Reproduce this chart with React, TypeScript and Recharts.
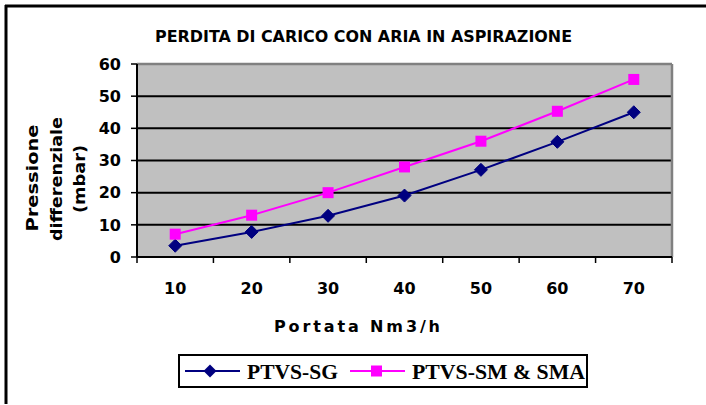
import React from 'react';
import { LineChart, Line, XAxis, YAxis, CartesianGrid, ReferenceLine } from 'recharts';

const categories = [10, 20, 30, 40, 50, 60, 70];
const seriesSG = [3.5, 7.8, 12.8, 19.1, 27.1, 35.8, 45.0];
const seriesSM = [7.1, 13.0, 20.0, 28.0, 36.0, 45.3, 55.2];
const seriesNames = ['PTVS-SG', 'PTVS-SM & SMA'];
const seriesColors = ['#000080', '#FF00FF'];
const yTicks = [0, 10, 20, 30, 40, 50, 60];
const titleText = 'PERDITA DI CARICO CON ARIA IN ASPIRAZIONE';
const xTitle = 'Portata Nm3/h';
const yTitleLines = ['Pressione', 'differenziale', '(mbar)'];

const data = categories.map((c, i) => ({ x: c, sg: seriesSG[i], sm: seriesSM[i] }));
const step = categories[1] - categories[0];
const boundaryTicks = [...categories.map((c) => c - step / 2), categories[categories.length - 1] + step / 2];
const domain: [number, number] = [boundaryTicks[0], boundaryTicks[boundaryTicks.length - 1]];

const Diamond = (props: any) => {
  const { cx, cy } = props;
  if (cx == null || cy == null) return null;
  const r = 6.5;
  return (
    <polygon
      points={`${cx},${cy - r} ${cx + r},${cy} ${cx},${cy + r} ${cx - r},${cy}`}
      fill={seriesColors[0]}
      stroke={seriesColors[0]}
    />
  );
};

const Square = (props: any) => {
  const { cx, cy } = props;
  if (cx == null || cy == null) return null;
  const r = 5.5;
  return <rect x={cx - r} y={cy - r} width={2 * r} height={2 * r} fill={seriesColors[1]} />;
};

const tickFont = { fontFamily: 'DejaVu Sans', fontWeight: 700, fontSize: 16, fill: '#000' };

export default function App() {
  return (
    <div style={{ position: 'absolute', left: 0, top: 0, width: 706, height: 405, background: '#fff' }}>
      <LineChart
        width={706}
        height={405}
        data={data}
        margin={{ top: 64, right: 34, bottom: 110, left: 0 }}
      >
        <CartesianGrid
          vertical={false}
          fill="#C0C0C0"
          fillOpacity={1}
          stroke="#000"
          strokeWidth={2}
        />
        <XAxis
          xAxisId="b"
          dataKey="x"
          type="number"
          domain={domain}
          ticks={boundaryTicks}
          tickFormatter={() => ''}
          tickSize={6}
          height={8}
          axisLine={{ stroke: '#000', strokeWidth: 2 }}
          tickLine={{ stroke: '#000', strokeWidth: 1.5 }}
          allowDataOverflow
        />
        <XAxis
          xAxisId="l"
          dataKey="x"
          type="number"
          domain={domain}
          ticks={categories}
          axisLine={false}
          tickLine={false}
          tickSize={0}
          tickMargin={18}
          height={30}
          tick={tickFont}
          interval={0}
        />
        <YAxis
          domain={[0, 60]}
          ticks={yTicks}
          width={137}
          tickSize={6}
          tickMargin={10}
          tick={tickFont}
          axisLine={{ stroke: '#000', strokeWidth: 2 }}
          tickLine={{ stroke: '#000', strokeWidth: 1.5 }}
          interval={0}
        />
        <ReferenceLine xAxisId="b" y={60} stroke="#808080" strokeWidth={2.5} />
        <ReferenceLine xAxisId="b" x={domain[1]} stroke="#808080" strokeWidth={2.5} />
        <Line
          xAxisId="b"
          dataKey="sg"
          stroke={seriesColors[0]}
          strokeWidth={2}
          dot={<Diamond />}
          isAnimationActive={false}
        />
        <Line
          xAxisId="b"
          dataKey="sm"
          stroke={seriesColors[1]}
          strokeWidth={2}
          dot={<Square />}
          isAnimationActive={false}
        />
      </LineChart>
      <svg
        width={706}
        height={405}
        style={{ position: 'absolute', left: 0, top: 0, pointerEvents: 'none' }}
      >
        <line x1={5} y1={6} x2={706} y2={6} stroke="#000" strokeWidth={3} />
        <line x1={6} y1={5} x2={6} y2={404} stroke="#000" strokeWidth={3} />
        <text
          x={363.5}
          y={42}
          textAnchor="middle"
          fontFamily="DejaVu Sans Condensed, DejaVu Sans"
          fontWeight={700}
          fontSize={16}
          textLength={417}
          lengthAdjust="spacingAndGlyphs"
        >
          {titleText}
        </text>
        <text
          x={357}
          y={332}
          textAnchor="middle"
          fontFamily="DejaVu Sans"
          fontWeight={700}
          fontSize={16}
          textLength={166}
          lengthAdjust="spacing"
        >
          {xTitle}
        </text>
        {yTitleLines.map((t, i) => {
          const xs = [38, 62, 85];
          const lens = [107, 124, 68];
          const ys = [178, 179, 179];
          return (
            <text
              key={t}
              x={xs[i]}
              y={ys[i]}
              transform={`rotate(-90, ${xs[i]}, ${ys[i]})`}
              textAnchor="middle"
              fontFamily="DejaVu Sans"
              fontWeight={700}
              fontSize={16}
              textLength={lens[i]}
              lengthAdjust="spacingAndGlyphs"
            >
              {t}
            </text>
          );
        })}
        <rect x={179} y={355} width={408} height={32} fill="#fff" stroke="#000" strokeWidth={2} />
        <line x1={185} y1={371} x2={240} y2={371} stroke={seriesColors[0]} strokeWidth={2} />
        <polygon points="210,364.5 216.5,371 210,377.5 203.5,371" fill={seriesColors[0]} />
        <text
          x={247}
          y={378.5}
          fontFamily="Liberation Serif"
          fontWeight={700}
          fontSize={20}
          textLength={91}
          lengthAdjust="spacingAndGlyphs"
        >
          {seriesNames[0]}
        </text>
        <line x1={350} y1={371} x2={405} y2={371} stroke={seriesColors[1]} strokeWidth={2} />
        <rect x={371} y={365.5} width={11} height={11} fill={seriesColors[1]} />
        <text
          x={412}
          y={378.5}
          fontFamily="Liberation Serif"
          fontWeight={700}
          fontSize={20}
          textLength={173}
          lengthAdjust="spacingAndGlyphs"
        >
          {seriesNames[1]}
        </text>
      </svg>
    </div>
  );
}
